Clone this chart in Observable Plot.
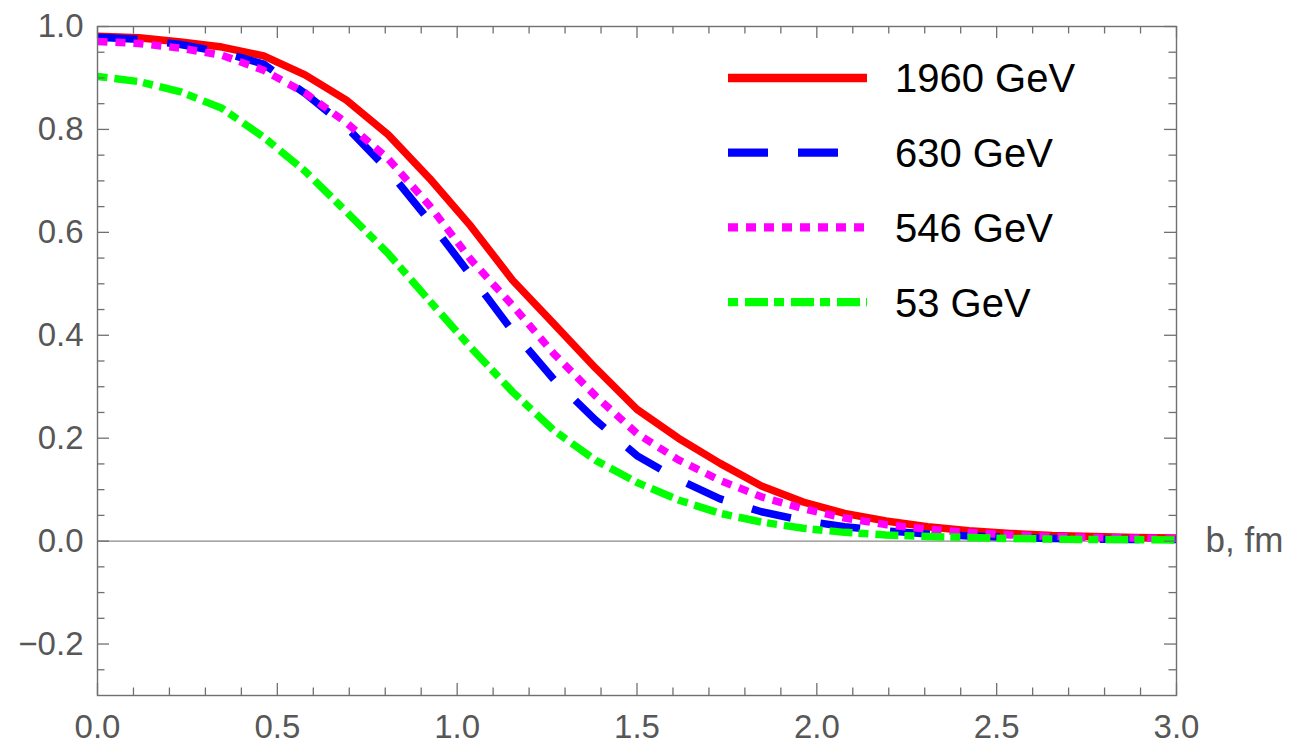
<!DOCTYPE html>
<html>
<head>
<meta charset="utf-8">
<script src="https://cdn.jsdelivr.net/npm/d3@7"></script>
<script src="https://cdn.jsdelivr.net/npm/@observablehq/plot@0.6"></script>
<style>
  body { margin: 0; background: #fff; }
  #wrap { position: relative; width: 1301px; height: 744px; }
</style>
</head>
<body>
<div id="wrap"></div>
<script>
// ---- data ----
const bValues = [0, 0.115, 0.231, 0.346, 0.462, 0.577, 0.692, 0.808, 0.923, 1.038, 1.154, 1.269, 1.385, 1.5,
  1.615, 1.731, 1.846, 1.962, 2.077, 2.192, 2.308, 2.423, 2.538, 2.654, 2.769, 2.885, 3.0];

const gev1960 = [0.981, 0.978, 0.970, 0.960, 0.943, 0.906, 0.857, 0.790, 0.705, 0.612, 0.507, 0.422, 0.336, 0.256,
  0.200, 0.151, 0.107, 0.076, 0.054, 0.039, 0.028, 0.020, 0.015, 0.011, 0.009, 0.007, 0.006];
const gev630 = [0.979, 0.975, 0.965, 0.950, 0.927, 0.870, 0.805, 0.721, 0.622, 0.516, 0.408, 0.314, 0.235, 0.166,
  0.120, 0.082, 0.057, 0.040, 0.028, 0.020, 0.014, 0.010, 0.007, 0.005, 0.004, 0.003, 0.003];
const gev546 = [0.971, 0.967, 0.958, 0.944, 0.915, 0.871, 0.813, 0.743, 0.652, 0.547, 0.458, 0.364, 0.282, 0.209,
  0.158, 0.118, 0.086, 0.063, 0.045, 0.032, 0.023, 0.017, 0.012, 0.009, 0.007, 0.006, 0.005];
const gev53 = [0.903, 0.893, 0.873, 0.841, 0.785, 0.719, 0.640, 0.559, 0.467, 0.376, 0.290, 0.215, 0.157, 0.114,
  0.080, 0.054, 0.037, 0.025, 0.017, 0.012, 0.009, 0.007, 0.005, 0.004, 0.003, 0.003, 0.002];

const seriesNames = ["1960 GeV", "630 GeV", "546 GeV", "53 GeV"];
const seriesValues = [gev1960, gev630, gev546, gev53];
const seriesColors = ["#ff0000", "#0000ff", "#ff00ff", "#00ff00"];
const seriesDash = [null, "40,30", "10,8", "10,7,23,6"];

const xMajorTicks = [0, 0.5, 1.0, 1.5, 2.0, 2.5, 3.0];
const xMinorTicks = [0.1, 0.2, 0.3, 0.4, 0.6, 0.7, 0.8, 0.9, 1.1, 1.2, 1.3, 1.4, 1.6, 1.7, 1.8, 1.9,
  2.1, 2.2, 2.3, 2.4, 2.6, 2.7, 2.8, 2.9];
const yMajorTicks = [-0.2, 0.0, 0.2, 0.4, 0.6, 0.8, 1.0];
const yMinorTicks = [-0.25, -0.15, -0.1, -0.05, 0.05, 0.1, 0.15, 0.25, 0.3, 0.35, 0.45, 0.5, 0.55,
  0.65, 0.7, 0.75, 0.85, 0.9, 0.95];
const xAxisLabel = "b, fm";

// ---- layout ----
const W = 1301, H = 744;
const mL = 97, mR = 125, mT = 26, mB = 49;
const innerW = W - mL - mR, innerH = H - mT - mB;
const majorLen = 12, minorLen = 7.5;
const axisGray = "#707070";
const labelGray = "#575757";
const font = "'Liberation Sans', Arial, sans-serif";

const rows = [];
seriesNames.forEach((name, s) => {
  bValues.forEach((b, i) => rows.push({series: name, b, v: seriesValues[s][i]}));
});

const lineMarks = seriesNames.map((name, s) =>
  Plot.line(rows.filter(d => d.series === name), {
    x: "b", y: "v",
    stroke: seriesColors[s],
    strokeWidth: 7.5,
    strokeDasharray: seriesDash[s],
    strokeLinecap: "butt",
    strokeLinejoin: "round"
  })
);

const tickStyle = {stroke: axisGray, strokeWidth: 1.3};

const chart = Plot.plot({
  width: W, height: H,
  marginLeft: mL, marginRight: mR, marginTop: mT, marginBottom: mB,
  x: {domain: [0, 3]},
  y: {domain: [-0.3, 1.0]},
  style: {fontFamily: font, background: "#fff", overflow: "visible"},
  marks: [
    Plot.ruleY([0], {stroke: "#8a8a8a", strokeWidth: 1.3}),
    ...lineMarks,
    // bottom ticks
    Plot.ruleX(xMajorTicks, {...tickStyle, insetTop: innerH - majorLen}),
    Plot.ruleX(xMinorTicks, {...tickStyle, insetTop: innerH - minorLen}),
    // top ticks
    Plot.ruleX(xMajorTicks, {...tickStyle, insetBottom: innerH - majorLen}),
    Plot.ruleX(xMinorTicks, {...tickStyle, insetBottom: innerH - minorLen}),
    // left ticks
    Plot.ruleY(yMajorTicks, {...tickStyle, insetRight: innerW - majorLen}),
    Plot.ruleY(yMinorTicks, {...tickStyle, insetRight: innerW - minorLen}),
    // right ticks
    Plot.ruleY(yMajorTicks, {...tickStyle, insetLeft: innerW - majorLen}),
    Plot.ruleY(yMinorTicks, {...tickStyle, insetLeft: innerW - minorLen}),
    Plot.frame({stroke: axisGray, strokeWidth: 1.4}),
    Plot.axisX(xMajorTicks, {tickSize: 0, tickPadding: 19, tickFormat: d3.format(".1f"),
      label: null, fontSize: 33, fill: labelGray}),
    Plot.axisY(yMajorTicks, {tickSize: 0, tickPadding: 14, tickFormat: d3.format(".1f"),
      label: null, fontSize: 33, fill: labelGray}),
    Plot.text([{b: 3, v: 0, t: xAxisLabel}], {x: "b", y: "v", text: "t", dx: 29,
      textAnchor: "start", fontSize: 35, fill: labelGray})
  ]
});
document.getElementById("wrap").appendChild(chart);

// ---- legend (inside plot area, top right) ----
const leg = d3.select("#wrap").append("svg")
  .attr("width", W).attr("height", H)
  .style("position", "absolute").style("left", "0px").style("top", "0px")
  .style("pointer-events", "none");
const legX0 = 728, legX1 = 867, legTextX = 895, legY0 = 78, legStep = 74.7;
seriesNames.forEach((name, s) => {
  const y = legY0 + s * legStep;
  leg.append("line")
    .attr("x1", legX0).attr("x2", legX1).attr("y1", y).attr("y2", y)
    .attr("stroke", seriesColors[s]).attr("stroke-width", 8.3)
    .attr("stroke-dasharray", seriesDash[s]).attr("stroke-linecap", "butt");
  leg.append("text")
    .attr("x", legTextX).attr("y", y).attr("dy", "0.36em")
    .attr("font-family", font).attr("font-size", 40).attr("fill", "#000")
    .text(name);
});
</script>
</body>
</html>
